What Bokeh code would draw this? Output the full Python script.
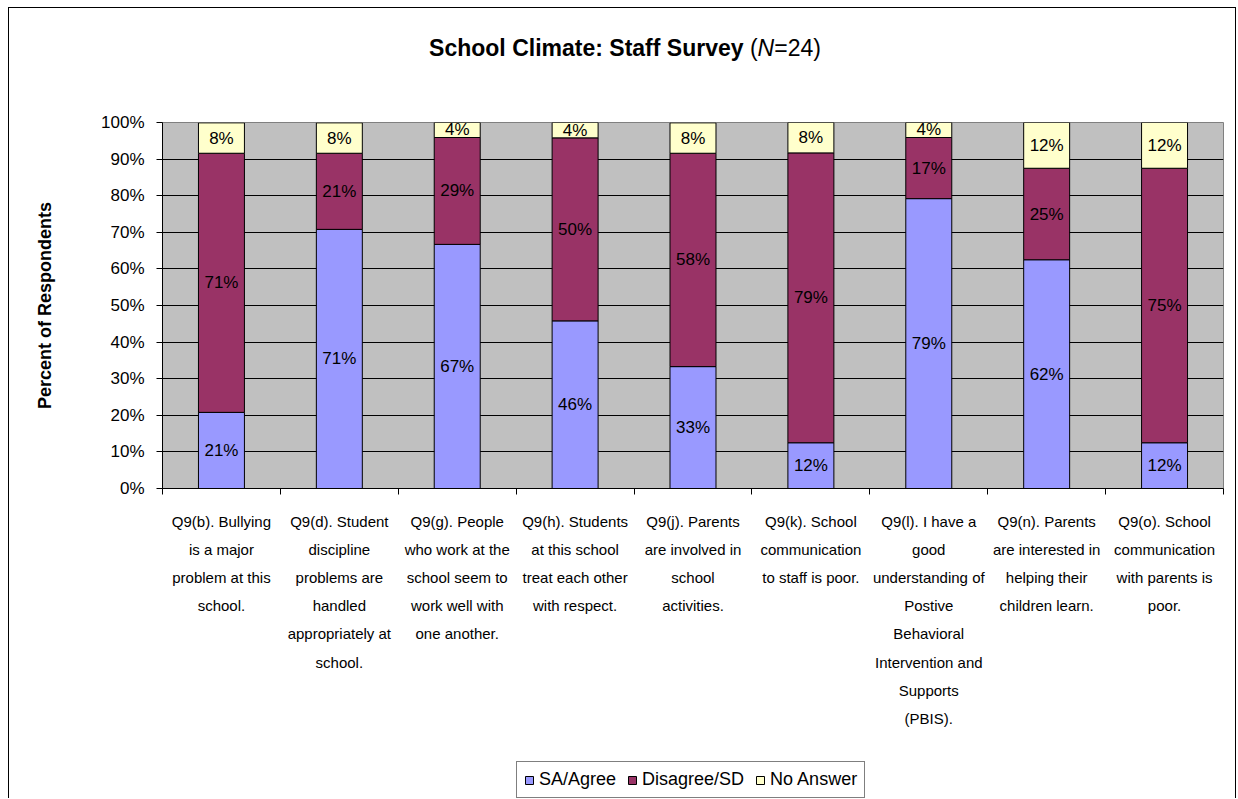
from bokeh.plotting import figure
from bokeh.layouts import column
from bokeh.models import (ColumnDataSource, Range1d, FixedTicker, PrintfTickFormatter,
                          Legend, LegendItem)
from bokeh.embed import file_html
from bokeh.resources import INLINE
from bokeh.core.properties import value

# ---------------- data ----------------
categories = [
    "Q9(b). Bullying\nis a major\nproblem at this\nschool.",
    "Q9(d). Student\ndiscipline\nproblems are\nhandled\nappropriately at\nschool.",
    "Q9(g). People\nwho work at the\nschool seem to\nwork well with\none another.",
    "Q9(h). Students\nat this school\ntreat each other\nwith respect.",
    "Q9(j). Parents\nare involved in\nschool\nactivities.",
    "Q9(k). School\ncommunication\nto staff is poor.",
    "Q9(l). I have a\ngood\nunderstanding of\nPostive\nBehavioral\nIntervention and\nSupports\n(PBIS).",
    "Q9(n). Parents\nare interested in\nhelping their\nchildren learn.",
    "Q9(o). School\ncommunication\nwith parents is\npoor.",
]
sa_agree = [20.8, 70.8, 66.7, 45.8, 33.3, 12.5, 79.2, 62.5, 12.5]
disagree = [70.8, 20.8, 29.2, 50.0, 58.3, 79.2, 16.7, 25.0, 75.0]
no_answer = [8.3, 8.3, 4.2, 4.2, 8.3, 8.3, 4.2, 12.5, 12.5]
series_names = ["SA/Agree", "Disagree/SD", "No Answer"]
series_colors = ["#9999FF", "#993366", "#FFFFCC"]
y_ticks = [0, 10, 20, 30, 40, 50, 60, 70, 80, 90, 100]
title_main = "School Climate: Staff Survey"
title_parts = ["(", "N", "=24)"]

FONT = "Liberation Sans"

n = len(categories)
xs = [i + 0.5 for i in range(n)]
W = 1226
TITLE_H = 80
MAIN_H = 664
LEG_H = 46
FRAME_L, FRAME_R = 162, 1223   # page x of the aligned plot frames

# ---------------- title strip ----------------
# frames in a column are aligned, so the x range spans the frame in page pixels
tf = figure(width=W, height=TITLE_H, output_backend="svg", toolbar_location=None,
            x_range=Range1d(FRAME_L, FRAME_R), y_range=Range1d(TITLE_H, 0),
            x_axis_location=None, y_axis_location=None, min_border=0,
            outline_line_color=None, background_fill_color="white",
            border_fill_color="white")
tf.grid.visible = False
ty = 39
tf.text(x=[743], y=[ty], text=[title_main], text_align="right", text_baseline="middle",
        text_font=value(FONT), text_font_size="23px", text_font_style="bold",
        text_color="black")
tf.text(x=[749.4, 757.1, 773.7], y=[ty, ty, ty], text=title_parts, text_align="left",
        text_baseline="middle", text_font=value(FONT), text_font_size="23px",
        text_font_style=["normal", "italic", "normal"], text_color="black")

# ---------------- main chart ----------------
source = ColumnDataSource(dict(x=xs, sa=sa_agree, dis=disagree, na=no_answer))

p = figure(width=W, height=MAIN_H, output_backend="svg", toolbar_location=None,
           x_range=Range1d(0, n), y_range=Range1d(0, 100),
           min_border_left=153, min_border_right=12, min_border_top=34,
           min_border_bottom=MAIN_H - 34 - 366, background_fill_color="#C0C0C0",
           border_fill_color="white", outline_line_color="#808080")

renderers = p.vbar_stack(["sa", "dis", "na"], x="x", width=0.39, source=source,
                         color=series_colors, line_color="black", line_width=1)

lx, ly, lt = [], [], []
for i in range(n):
    base = 0.0
    for v in (sa_agree[i], disagree[i], no_answer[i]):
        lx.append(xs[i])
        ly.append(base + v / 2)
        lt.append(f"{round(v)}%")
        base += v
p.text(x=lx, y=ly, text=lt, text_align="center", text_baseline="middle",
       text_font=value(FONT), text_font_size="17px", text_color="black")

p.xgrid.visible = False
p.ygrid.grid_line_color = "black"
p.ygrid.grid_line_width = 1

yax = p.yaxis[0]
yax.ticker = FixedTicker(ticks=y_ticks)
yax.formatter = PrintfTickFormatter(format="%d%%")
yax.major_tick_out = 6
yax.major_tick_in = 0
yax.minor_tick_line_color = None
yax.axis_line_color = "black"
yax.major_tick_line_color = "black"
yax.major_label_text_font = FONT
yax.major_label_text_font_size = "17px"
yax.major_label_text_color = "black"
yax.major_label_standoff = 12
yax.axis_label = "Percent of Respondents"
yax.axis_label_text_font = FONT
yax.axis_label_text_font_size = "18px"
yax.axis_label_text_font_style = "bold"
yax.axis_label_text_color = "black"
yax.axis_label_standoff = 43

xax = p.xaxis[0]
xax.ticker = FixedTicker(ticks=xs, minor_ticks=list(range(n + 1)))
xax.major_label_overrides = {x: c for x, c in zip(xs, categories)}
xax.major_tick_line_color = None
xax.major_tick_out = 0
xax.major_tick_in = 0
xax.minor_tick_line_color = "black"
xax.minor_tick_out = 6
xax.minor_tick_in = 0
xax.axis_line_color = "black"
xax.major_label_text_font = FONT
xax.major_label_text_font_size = "15px"
xax.major_label_text_color = "black"
xax.major_label_text_line_height = 1.66
xax.major_label_standoff = 18

# ---------------- legend strip ----------------
lf = figure(width=W, height=LEG_H, output_backend="svg", toolbar_location=None,
            x_range=Range1d(0, 1), y_range=Range1d(0, 1),
            x_axis_location=None, y_axis_location=None, min_border=0,
            outline_line_color=None, background_fill_color="white",
            border_fill_color="white")
lf.grid.visible = False
leg_renderers = []
for c in series_colors:
    # tiny proxy bars hidden behind the opaque legend box: only the swatches show
    leg_renderers.append(lf.vbar(x=[0.5], bottom=[0.3], top=[0.5], width=0.004,
                                 fill_color=c, line_color="black"))
items = [LegendItem(label=name, renderers=[r]) for name, r in zip(series_names, leg_renderers)]
legend = Legend(items=items, orientation="horizontal", location=(516 - FRAME_L, 0),
                label_text_font=FONT, label_text_font_size="18px", label_text_color="black",
                glyph_width=10, glyph_height=10, label_standoff=5, spacing=11,
                padding=7, margin=0, border_line_color="black", border_line_width=1,
                background_fill_color="white", background_fill_alpha=1.0,
                label_height=14)
lf.add_layout(legend, "center")

layout = column(tf, p, lf, spacing=0)
layout.styles = {"margin": "7px 0 0 8px", "border": "1px solid #000000",
                 "border-bottom": "none"}

open("out.html", "w").write(file_html(layout, INLINE))
